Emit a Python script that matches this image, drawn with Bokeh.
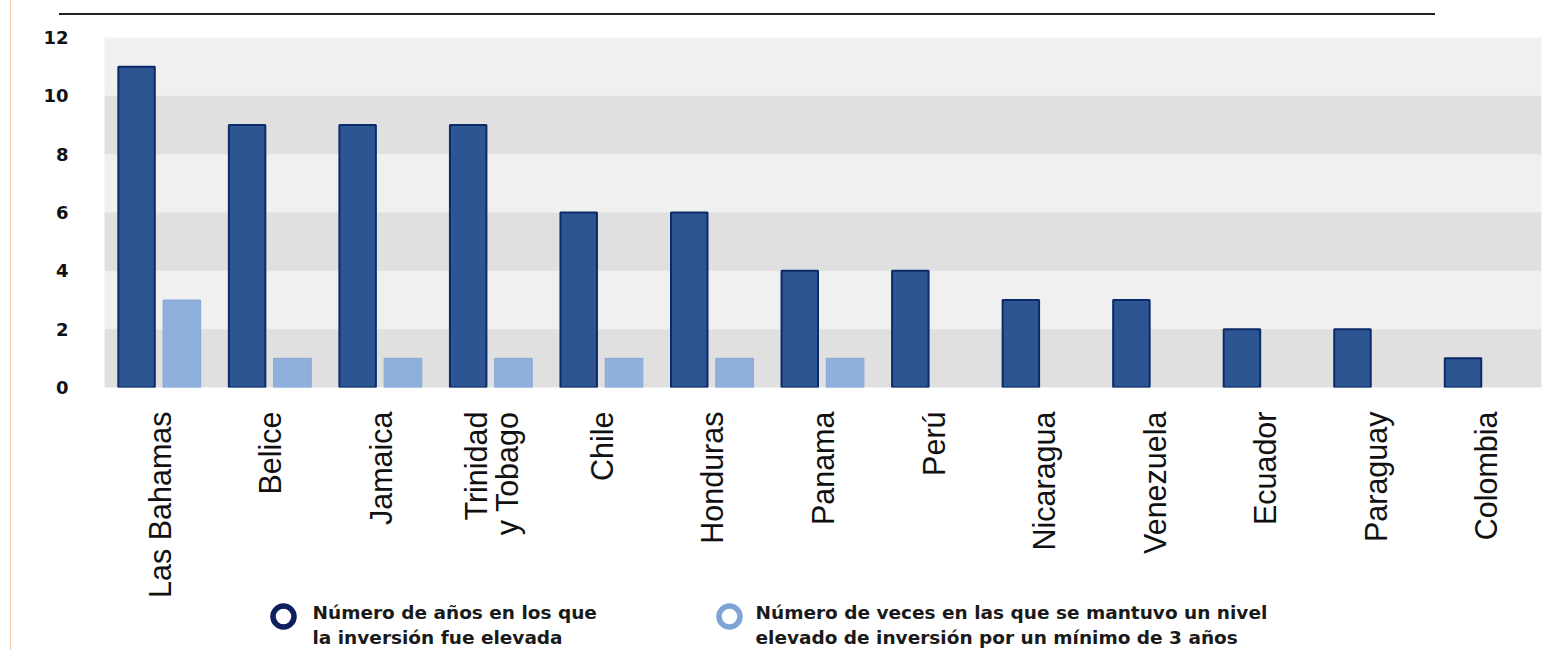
from bokeh.plotting import figure
from bokeh.models import FactorRange, Range1d, BoxAnnotation, FixedTicker, ColumnDataSource, Div, Spacer
from bokeh.transform import dodge
from bokeh.layouts import column, row
from bokeh.embed import file_html
from bokeh.resources import INLINE
from bokeh.core.properties import value

countries = ["Las Bahamas", "Belice", "Jamaica", "Trinidad\ny Tobago", "Chile", "Honduras",
             "Panama", "Perú", "Nicaragua", "Venezuela", "Ecuador", "Paraguay", "Colombia"]
years_high = [11, 9, 9, 9, 6, 6, 4, 4, 3, 3, 2, 2, 1]
times_sustained = [3, 1, 1, 1, 1, 1, 1, 0, 0, 0, 0, 0, 0]
y_ticks = [0, 2, 4, 6, 8, 10, 12]
legend_labels = ["Número de años en los que\nla inversión fue elevada",
                 "Número de veces en las que se mantuvo un nivel\nelevado de inversión por un mínimo de 3 años"]

DARK = "#2d5592"
DARK_LINE = "#0b2a68"
LIGHT = "#8fb0dc"
LIGHT_LINE = "#86a7d6"

STRIP = 11          # left decorative strip width
W = 1549            # width of chart column
FRAME_L = 104       # page x of plot frame left
FRAME_R = 1541      # page x of plot frame right
BL = FRAME_L - STRIP
BR = STRIP + W - FRAME_R

# ---- decorations ----
left_strip = Div(text="", width=STRIP, height=650, margin=0,
                 styles={"border-right": "1.5px solid #f6cdb2", "box-sizing": "border-box"})
top_rule = Div(text="", width=1376, height=15, margin=0,
               styles={"border-bottom": "2.5px solid #222222", "box-sizing": "border-box"})
top_row = row(Spacer(width=59 - STRIP, height=15, margin=0), top_rule, spacing=0)

# ---- main chart ----
p = figure(width=W, height=585, x_range=FactorRange(*countries, range_padding=0),
           y_range=Range1d(0, 12), output_backend="svg", toolbar_location=None,
           min_border_left=BL, min_border_right=BR, min_border_top=22, min_border_bottom=213)
p.outline_line_color = None
p.background_fill_color = "#f0f0f0"
p.border_fill_color = "white"
p.grid.visible = False

for i in range(0, len(y_ticks) - 1):
    if i % 2 == 0:
        p.add_layout(BoxAnnotation(bottom=y_ticks[i], top=y_ticks[i + 1], fill_color="#e0e0e0",
                                   fill_alpha=1, line_alpha=0, level="underlay"))

src_dark = ColumnDataSource(dict(x=countries, top=years_high))
p.vbar(x=dodge("x", -0.21, range=p.x_range), top="top", bottom=0, width=0.33, source=src_dark,
       fill_color=DARK, line_color=DARK_LINE, line_width=2)
nz = [(c, v) for c, v in zip(countries, times_sustained) if v > 0]
src_light = ColumnDataSource(dict(x=[c for c, v in nz], top=[v for c, v in nz]))
p.vbar(x=dodge("x", 0.2, range=p.x_range), top="top", bottom=0, width=0.34, source=src_light,
       fill_color=LIGHT, line_color=LIGHT_LINE, line_width=1)

p.yaxis.ticker = FixedTicker(ticks=y_ticks)
p.yaxis.axis_line_color = None
p.yaxis.major_tick_line_color = None
p.yaxis.minor_tick_line_color = None
p.yaxis.major_label_standoff = 30
p.yaxis.major_label_text_font = "DejaVu Sans"
p.yaxis.major_label_text_font_style = "bold"
p.yaxis.major_label_text_font_size = "18px"
p.yaxis.major_label_text_color = "#111111"

p.xaxis.axis_line_color = None
p.xaxis.major_tick_line_color = None
p.xaxis.minor_tick_line_color = None
p.xaxis.major_label_orientation = 1.5707963
p.xaxis.major_label_standoff = 18
p.xaxis.major_label_text_font = "Liberation Sans"
p.xaxis.major_label_text_font_size = "30.5px"
p.xaxis.major_label_text_line_height = 0.9
p.xaxis.major_label_text_color = "#111111"

# ---- legend ----
LH = 58
lg = figure(width=W, height=LH, x_range=Range1d(FRAME_L, FRAME_R), y_range=Range1d(LH, 0),
            output_backend="svg", toolbar_location=None,
            min_border_left=BL, min_border_right=BR, min_border_top=0, min_border_bottom=0)
lg.axis.visible = False
lg.grid.visible = False
lg.outline_line_color = None
lg.scatter(x=[283, 729], y=[16, 16], size=21, marker="circle", fill_color="white",
           line_color=["#0d1f5e", "#7ea3d6"], line_width=5.5)
lg.text(x=[312, 755], y=[1, 1], text=legend_labels, text_font=value("DejaVu Sans"),
        text_font_style="bold", text_font_size="18.5px", text_baseline="top",
        text_line_height=1.2, text_color="#1a1a1a")

layout = row(left_strip, column(top_row, p, lg, spacing=0), spacing=0)
open("out.html", "w").write(file_html(layout, INLINE))
